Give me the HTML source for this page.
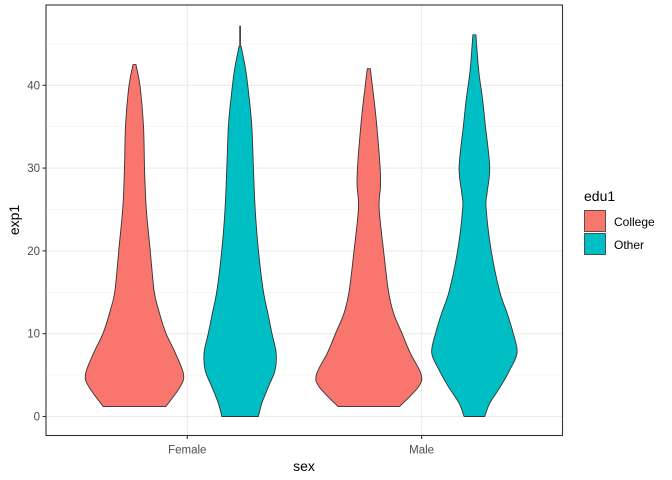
<!DOCTYPE html>
<html><head><meta charset="utf-8"><style>
body{margin:0;background:#fff}
svg{display:block;font-family:"Liberation Sans",Arial,sans-serif}
</style></head><body>
<svg id="chart" width="672" height="480" viewBox="0 0 672 480">
<rect x="0" y="0" width="672" height="480" fill="#fff"/>
<g id="grid"></g>
<g id="violins"></g>
<rect x="46" y="5" width="516.5" height="430.5" fill="none" stroke="#333" stroke-width="1.1"/>
<g id="axes"></g>
<text x="304" y="471" font-size="14" text-anchor="middle" fill="#000">sex</text>
<text x="0" y="0" font-size="14" text-anchor="middle" fill="#000" transform="translate(19,220) rotate(-90)">exp1</text>
<g>
<text x="584" y="201" font-size="14" fill="#000">edu1</text>
<g>
<rect x="584.5" y="210.5" width="21" height="21" fill="#F8766D" stroke="#333" stroke-width="0.8"/>
<text x="614" y="226" font-size="12" fill="#000">College</text>
</g>
<g>
<rect x="584.5" y="233.5" width="21" height="21" fill="#00BFC4" stroke="#333" stroke-width="0.8"/>
<text x="614" y="249" font-size="12" fill="#000">Other</text>
</g>
</g>
</svg>
<script>
const categories = ["Female", "Male"];
const groups = ["College", "Other"];
const yTicks = [0, 10, 20, 30, 40];
// violin profiles: value levels and half-width (density) at each level
const femaleCollegeV = [1.2, 3.6, 5.1, 7.7, 10.1, 12.9, 15.1, 20.1, 25.2, 30.1, 35.1, 39.8, 42.5];
const femaleCollegeD = [31.3, 45.7, 49, 40.7, 31.3, 24, 19.7, 15.7, 11.7, 10, 9, 5.7, 1.5];
const femaleOtherV = [0, 1.6, 3.6, 5.6, 7.7, 10.1, 12.5, 15.1, 20.1, 25.2, 30.1, 35.1, 38.2, 41.8, 44.7];
const femaleOtherD = [18.3, 21.7, 28.3, 35, 36, 31.7, 27.7, 23.3, 18.3, 15, 13.3, 11.7, 9.3, 5.7, 1];
const femaleOtherMax = 47.2;
const maleCollegeV = [1.2, 3.6, 5.1, 7.7, 10.1, 12.5, 15.1, 20.1, 25.2, 27.8, 30.1, 35.1, 38.2, 42.0];
const maleCollegeD = [30.7, 49.7, 52.3, 41.3, 33, 24.7, 19.7, 14.7, 10.3, 11.7, 11.3, 8, 5.3, 1.5];
const maleOtherV = [0, 1.6, 3.6, 5.6, 7.7, 10.1, 12.5, 15.1, 20.1, 25.2, 27, 30.1, 35.1, 38.2, 41.8, 46.1];
const maleOtherD = [10.3, 15.3, 26, 35.3, 42.7, 38.7, 32.7, 25.3, 16.7, 11.7, 12.7, 15.3, 11, 8.3, 4.3, 1.5];

const NS = "http://www.w3.org/2000/svg";
const PL = 46, PR = 562.5, PT = 5, PB = 435.5;
function yScale(v){ return 416.5 - 8.28 * v; }
function xScale(cat){ return 187.3 + categories.indexOf(cat) * 234.3; }
const dodge = 52.8;
function groupX(cat, g){ return xScale(cat) + (groups.indexOf(g) === 0 ? -dodge : dodge); }
function wScale(d){ return d; }
function mk(tag, attrs, parent){
  const e = document.createElementNS(NS, tag);
  for (const k in attrs) e.setAttribute(k, attrs[k]);
  parent.appendChild(e); return e;
}
function f(n){ return n.toFixed(1); }
function smooth(pts){
  // Catmull-Rom through pts, returns segment string (no initial M)
  let s = "";
  for (let i = 0; i < pts.length - 1; i++) {
    const p0 = pts[Math.max(0,i-1)], p1 = pts[i], p2 = pts[i+1], p3 = pts[Math.min(pts.length-1,i+2)];
    const k = 1/6;
    const c1 = [p1[0] + (p2[0]-p0[0])*k, p1[1] + (p2[1]-p0[1])*k];
    const c2 = [p2[0] - (p3[0]-p1[0])*k, p2[1] - (p3[1]-p1[1])*k];
    s += "C" + f(c1[0])+","+f(c1[1])+" "+f(c2[0])+","+f(c2[1])+" "+f(p2[0])+","+f(p2[1]);
  }
  return s;
}
const grid = document.getElementById("grid");
for (let v = 5; v <= 45; v += 10) {
  const l = mk("line", {x1:PL, x2:PR, y1:yScale(v), y2:yScale(v), stroke:"#f2f2f2", "stroke-width":0.6}, grid);
  
  
}
yTicks.forEach(v => {
  const l = mk("line", {x1:PL, x2:PR, y1:yScale(v), y2:yScale(v), stroke:"#ebebeb", "stroke-width":1.1}, grid);
  
  
});
categories.forEach(c => {
  const l = mk("line", {x1:xScale(c), x2:xScale(c), y1:PT, y2:PB, stroke:"#ebebeb", "stroke-width":1.1}, grid);
  
  
});
const vg = document.getElementById("violins");
function violin(cat, g, V, D, color, name, maxV){
  const cx = groupX(cat, g);
  const right = V.map((v,i)=>[cx + wScale(D[i]), yScale(v)]);
  const left = V.map((v,i)=>[cx - wScale(D[i]), yScale(v)]).reverse();
  const top = yScale(V[V.length-1]);
  let d = "M" + f(right[0][0]) + "," + f(right[0][1]) + smooth(right);
  d += "L" + f(left[0][0]) + "," + f(left[0][1]) + smooth(left) + "Z";
  if (maxV !== undefined) {
    const t = mk("line", {x1:cx, x2:cx, y1:top, y2:yScale(maxV), stroke:"#333", "stroke-width":1.6}, vg);
    
    
  }
  const p = mk("path", {d:d, fill:color, stroke:"#333", "stroke-width":0.9, "stroke-linejoin":"round"}, vg);
  
  
}
violin("Female","College",femaleCollegeV,femaleCollegeD,"#F8766D","violin-female-college");
violin("Female","Other",femaleOtherV,femaleOtherD,"#00BFC4","violin-female-other",femaleOtherMax);
violin("Male","College",maleCollegeV,maleCollegeD,"#F8766D","violin-male-college");
violin("Male","Other",maleOtherV,maleOtherD,"#00BFC4","violin-male-other");

const ax = document.getElementById("axes");
yTicks.forEach(v => {
  const t = mk("line", {x1:PL-3.5, x2:PL, y1:yScale(v), y2:yScale(v), stroke:"#333", "stroke-width":1.1}, ax);
  
  
  const tx = mk("text", {x:PL-6, y:yScale(v)+4, "font-size":11.5, "text-anchor":"end", fill:"#4d4d4d"}, ax);
  tx.textContent = v;
  
  
});
categories.forEach(c => {
  const t = mk("line", {x1:xScale(c), x2:xScale(c), y1:PB, y2:PB+3.5, stroke:"#333", "stroke-width":1.1}, ax);
  
  
  const tx = mk("text", {x:xScale(c), y:PB+18, "font-size":11.5, "text-anchor":"middle", fill:"#4d4d4d"}, ax);
  tx.textContent = c;
  
  
});
</script>
</body></html>
